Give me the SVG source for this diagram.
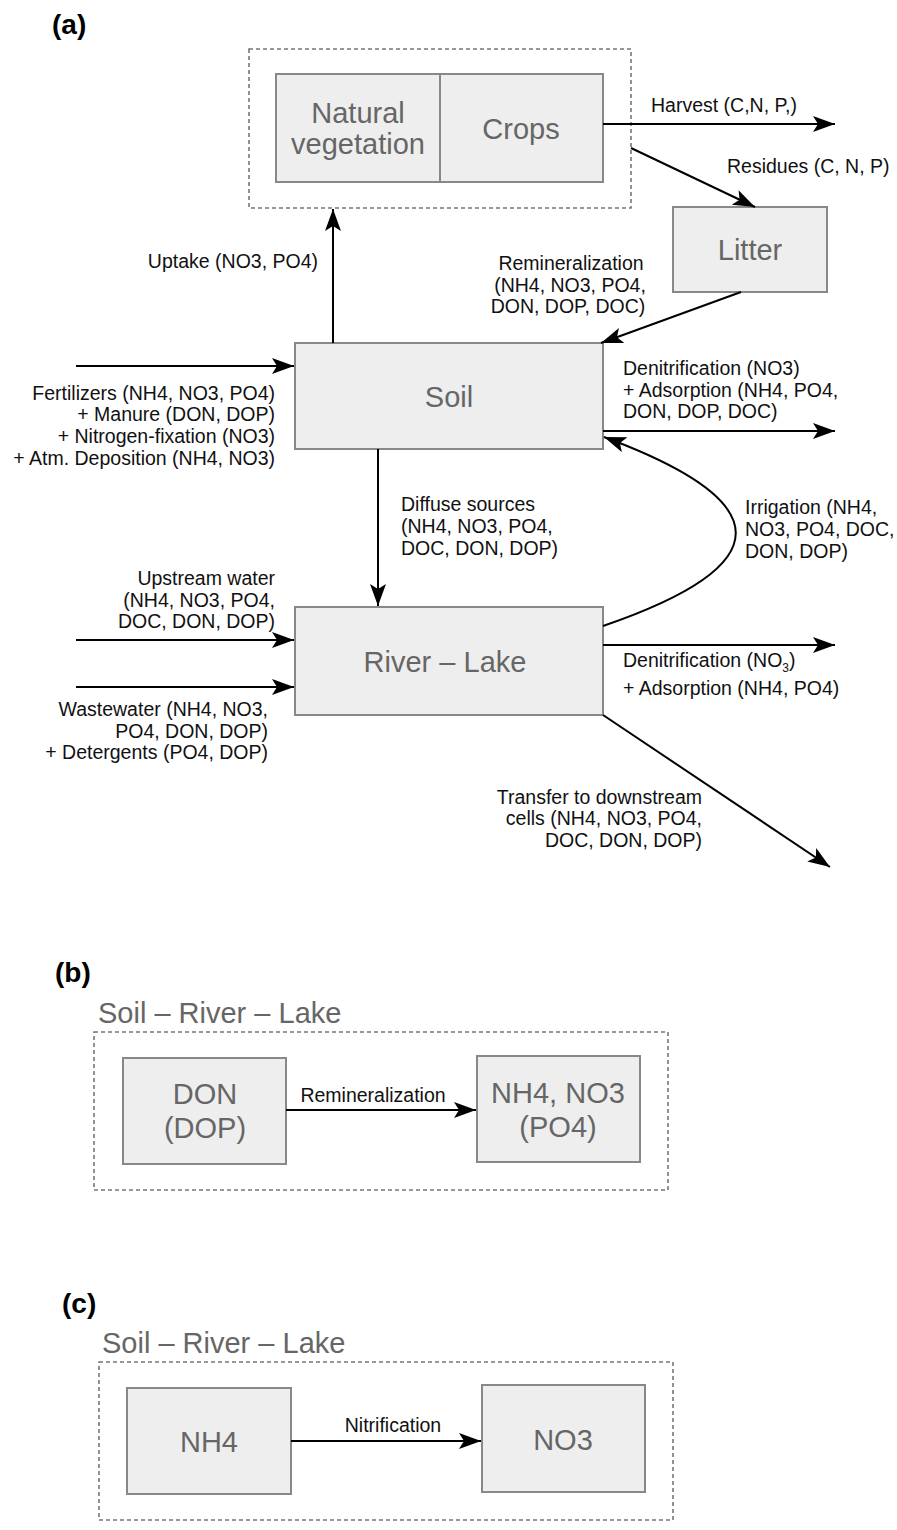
<svg xmlns="http://www.w3.org/2000/svg" width="897" height="1530" viewBox="0 0 897 1530">
<style>
.box{fill:#eeeeee;stroke:#888888;stroke-width:2}
.dash{fill:none;stroke:#777777;stroke-width:1.6;stroke-dasharray:4 3}
.big{font-family:"Liberation Sans",Arial,sans-serif;font-size:29px;fill:#666666;text-anchor:middle}
.lbl{font-family:"Liberation Sans",Arial,sans-serif;font-size:19.5px;fill:#111111}
.sm{font-family:"Liberation Sans",Arial,sans-serif;font-size:19.5px;fill:#111111;text-anchor:middle}
.r{text-anchor:end}
.m{text-anchor:middle}
.pan{font-family:"Liberation Sans",Arial,sans-serif;font-size:28px;font-weight:bold;fill:#000000}
.edge{fill:none;stroke:#000000;stroke-width:2}
</style>
<defs>
<marker id="ah" markerUnits="userSpaceOnUse" markerWidth="24" markerHeight="18" refX="22" refY="8" orient="auto">
<path d="M0,0 L22,8 L0,16 L5,8 z" fill="#000000"/>
</marker>
</defs>
<rect width="897" height="1530" fill="#ffffff"/>
<text class="pan" x="52" y="34">(a)</text>
<text class="pan" x="55" y="982">(b)</text>
<text class="pan" x="62" y="1313">(c)</text>

<g id="vegetation-group">
<rect class="dash" x="249" y="49" width="382" height="159"/>
</g>
<g id="natural-vegetation">
<rect class="box" x="276" y="74" width="164" height="108"/>
<text class="big" x="358" y="123">Natural</text>
<text class="big" x="358" y="154">vegetation</text>
</g>
<g id="crops">
<rect class="box" x="440" y="74" width="163" height="108"/>
<text class="big" x="521" y="139">Crops</text>
</g>
<g id="litter">
<rect class="box" x="673" y="207" width="154" height="85"/>
<text class="big" x="750" y="260">Litter</text>
</g>
<g id="soil">
<rect class="box" x="295" y="343" width="308" height="106"/>
<text class="big" x="449" y="407">Soil</text>
</g>
<g id="river-lake">
<rect class="box" x="295" y="607" width="308" height="108"/>
<text class="big" x="445" y="672">River – Lake</text>
</g>

<g id="panel-b">
<text class="big" x="98" y="1023" style="text-anchor:start">Soil – River – Lake</text>
<rect class="dash" x="94" y="1032" width="574" height="158"/>
</g>
<g id="don">
<rect class="box" x="123" y="1058" width="163" height="106"/>
<text class="big" x="205" y="1104">DON</text>
<text class="big" x="205" y="1138">(DOP)</text>
</g>
<g id="nh4-no3">
<rect class="box" x="477" y="1056" width="163" height="106"/>
<text class="big" x="558" y="1103">NH4, NO3</text>
<text class="big" x="558" y="1137">(PO4)</text>
</g>

<g id="panel-c">
<text class="big" x="102" y="1353" style="text-anchor:start">Soil – River – Lake</text>
<rect class="dash" x="99" y="1362" width="574" height="158"/>
</g>
<g id="nh4">
<rect class="box" x="127" y="1388" width="164" height="106"/>
<text class="big" x="209" y="1452">NH4</text>
</g>
<g id="no3">
<rect class="box" x="482" y="1385" width="163" height="107"/>
<text class="big" x="563" y="1450">NO3</text>
</g>

<g id="connectors">
<path class="edge" d="M603,124 L835,124" marker-end="url(#ah)"/>
<path class="edge" d="M631,148 L755,207" marker-end="url(#ah)"/>
<path class="edge" d="M741,292 L601,343" marker-end="url(#ah)"/>
<path class="edge" d="M333,343 L333,209" marker-end="url(#ah)"/>
<path class="edge" d="M76,366 L294,366" marker-end="url(#ah)"/>
<path class="edge" d="M603,431 L835,431" marker-end="url(#ah)"/>
<path class="edge" d="M378,449 L378,606" marker-end="url(#ah)"/>
<path class="edge" d="M603,626 Q868,535 604,437" marker-end="url(#ah)"/>
<path class="edge" d="M76,640 L294,640" marker-end="url(#ah)"/>
<path class="edge" d="M76,687 L294,687" marker-end="url(#ah)"/>
<path class="edge" d="M603,645 L835,645" marker-end="url(#ah)"/>
<path class="edge" d="M603,715 L830,867" marker-end="url(#ah)"/>
<path class="edge" d="M286,1110 L476,1110" marker-end="url(#ah)"/>
<path class="edge" d="M291,1441 L481,1441" marker-end="url(#ah)"/>

<text class="lbl" x="651" y="112">Harvest (C,N, P,)</text>
<text class="lbl" x="727" y="173">Residues (C, N, P)</text>
<text class="lbl m" x="571" y="270">Remineralization</text>
<text class="lbl m" x="570" y="292">(NH4, NO3, PO4,</text>
<text class="lbl m" x="568" y="313">DON, DOP, DOC)</text>
<text class="lbl r" x="318" y="268">Uptake (NO3, PO4)</text>
<text class="lbl r" x="275" y="400">Fertilizers (NH4, NO3, PO4)</text>
<text class="lbl r" x="275" y="421">+ Manure (DON, DOP)</text>
<text class="lbl r" x="275" y="443">+ Nitrogen-fixation (NO3)</text>
<text class="lbl r" x="275" y="465">+ Atm. Deposition (NH4, NO3)</text>
<text class="lbl" x="623" y="375">Denitrification (NO3)</text>
<text class="lbl" x="623" y="397">+ Adsorption (NH4, PO4,</text>
<text class="lbl" x="623" y="418">DON, DOP, DOC)</text>
<text class="lbl" x="401" y="511">Diffuse sources</text>
<text class="lbl" x="401" y="533">(NH4, NO3, PO4,</text>
<text class="lbl" x="401" y="555">DOC, DON, DOP)</text>
<text class="lbl" x="745" y="514">Irrigation (NH4,</text>
<text class="lbl" x="745" y="536">NO3, PO4, DOC,</text>
<text class="lbl" x="745" y="558">DON, DOP)</text>
<text class="lbl r" x="275" y="585">Upstream water</text>
<text class="lbl r" x="275" y="607">(NH4, NO3, PO4,</text>
<text class="lbl r" x="275" y="628">DOC, DON, DOP)</text>
<text class="lbl r" x="268" y="716">Wastewater (NH4, NO3,</text>
<text class="lbl r" x="268" y="738">PO4, DON, DOP)</text>
<text class="lbl r" x="268" y="759">+ Detergents (PO4, DOP)</text>
<text class="lbl" x="623" y="667">Denitrification (NO<tspan font-size="12" dy="5">3</tspan><tspan dy="-5">)</tspan></text>
<text class="lbl" x="623" y="695">+ Adsorption (NH4, PO4)</text>
<text class="lbl r" x="702" y="804">Transfer to downstream</text>
<text class="lbl r" x="702" y="825">cells (NH4, NO3, PO4,</text>
<text class="lbl r" x="702" y="847">DOC, DON, DOP)</text>
<text class="sm" x="373" y="1102">Remineralization</text>
<text class="sm" x="393" y="1432">Nitrification</text>
</g>
</svg>
